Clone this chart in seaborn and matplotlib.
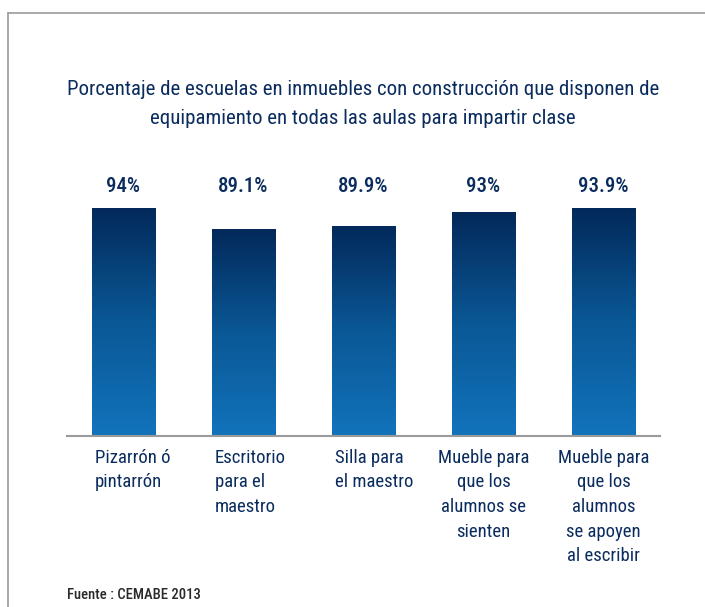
import numpy as np
import pandas as pd
import seaborn as sns
import matplotlib
matplotlib.use("Agg")
import matplotlib.pyplot as plt
from matplotlib import font_manager
from matplotlib.colors import LinearSegmentedColormap
from matplotlib.lines import Line2D

# Data
categories = ["Pizarrón ó\npintarrón",
              "Escritorio\npara el\nmaestro",
              "Silla para\nel maestro",
              "Mueble para\nque los\nalumnos se\nsienten",
              "Mueble para\nque los\nalumnos\nse apoyen\nal escribir"]
values = [94, 89.1, 89.9, 93, 93.9]
value_labels = ["94%", "89.1%", "89.9%", "93%", "93.9%"]
label_align = ["left", "left", "left", "center", "center"]

title = ("Porcentaje de escuelas en inmuebles con construcción que disponen de\n"
         "equipamiento en todas las aulas para impartir clase")
source = "Fuente : CEMABE 2013"

navy = "#0b2c5e"
top_color = "#03295a"
bottom_color = "#1273bb"

sns.set_theme(style="white")
installed = {f.name for f in font_manager.fontManager.ttflist}
family = [f for f in ["Liberation Sans Narrow", "Roboto Condensed", "DejaVu Sans"] if f in installed]
plt.rcParams["font.family"] = family + ["DejaVu Sans"]

df = pd.DataFrame({"categoria": categories, "valor": values})

fig = plt.figure(figsize=(7.05, 6.07), dpi=100)
ax = fig.add_axes([67 / 705, 171 / 607, 593 / 705, 286 / 607])

sns.barplot(data=df, x="categoria", y="valor", color=bottom_color, width=0.526, ax=ax)

# vertical gradient fill per bar (dark navy top -> lighter blue bottom)
ymin, ymax = 41.8, 107.25
cmap = LinearSegmentedColormap.from_list("azul", [bottom_color, "#0a5896", top_color])
grad = np.linspace(0, 1, 256).reshape(-1, 1)
for p in ax.patches:
    x0, y0 = p.get_x(), ymin
    x1, y1 = p.get_x() + p.get_width(), p.get_y() + p.get_height()
    im = ax.imshow(grad, extent=[x0, x1, y0, y1], origin="lower", aspect="auto",
                   cmap=cmap, zorder=2)
    im.set_clip_path(p)
    p.set_facecolor("none")
    p.set_edgecolor("none")

ax.set_xlim(-0.47, len(values) - 1 + 0.47)
ax.set_ylim(ymin, ymax)
ax.set_aspect("auto")

for s in ["top", "right", "left"]:
    ax.spines[s].set_visible(False)
ax.spines["bottom"].set_color("#9a9a9a")
ax.spines["bottom"].set_linewidth(1.5)
ax.spines["bottom"].set_zorder(5)
ax.set_xticks([])
ax.set_yticks([])
ax.set_xlabel("")
ax.set_ylabel("")

# value labels all sit at the same height
for i, lab in enumerate(value_labels):
    ax.text(i, 0.853, lab, transform=ax.get_xaxis_transform(), ha="center",
            va="baseline", fontsize=15, color=navy, fontweight="medium")

# category labels
for i, (cat, al) in enumerate(zip(categories, label_align)):
    xpos = i - 0.24 if al == "left" else i
    ax.text(xpos, -0.045, cat, transform=ax.get_xaxis_transform(), ha=al,
            va="top", fontsize=13.5, color=navy, linespacing=1.47,
            multialignment=al)

fig.text(363 / 705, 1 - 80 / 607, title, ha="center", va="top", fontsize=15,
         color=navy, linespacing=1.7)
fig.text(67 / 705, 8 / 607, source, ha="left", va="baseline", fontsize=10.5,
         color="#2a2a2a", fontweight="medium")

# frame lines (top and left)
fig.add_artist(Line2D([8 / 705, 1], [1 - 13 / 607, 1 - 13 / 607], color="#9a9a9a", lw=1.2))
fig.add_artist(Line2D([8 / 705, 8 / 705], [0, 1 - 13 / 607], color="#9a9a9a", lw=1.2))

fig.savefig("out.png", dpi=100)
